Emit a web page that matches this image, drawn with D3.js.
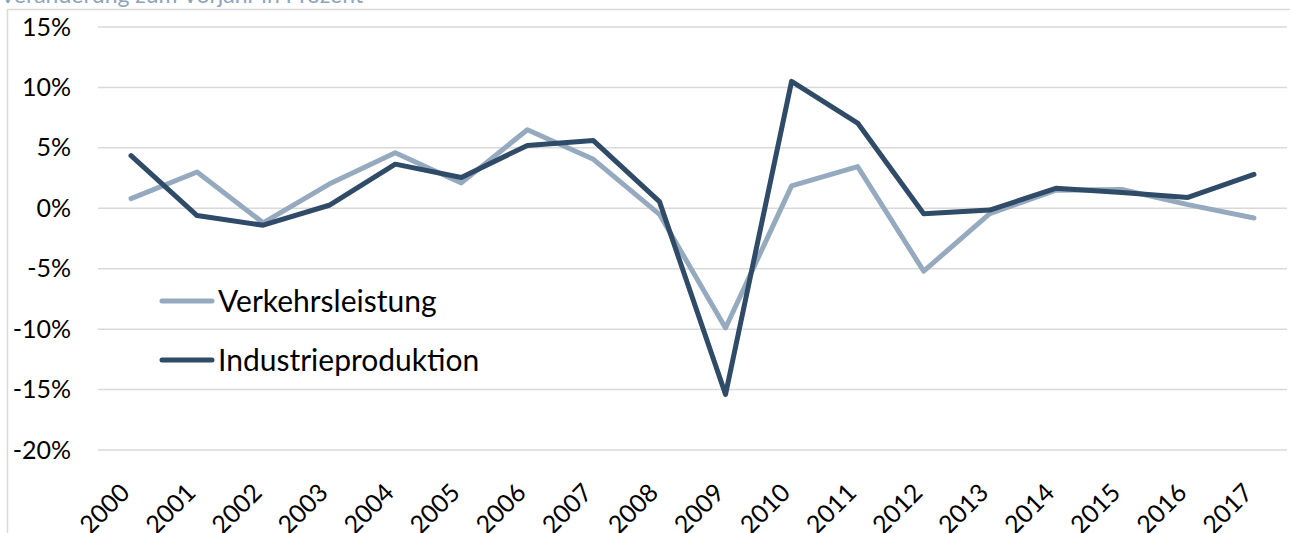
<!DOCTYPE html>
<html>
<head>
<meta charset="utf-8">
<script src="https://cdn.jsdelivr.net/npm/d3@7"></script>
<style>
  body { margin: 0; background: #fff; }
  svg { display: block; font-family: Lato, "Open Sans", sans-serif; }
</style>
</head>
<body>
<script>
"use strict";

// chart data
var years = ["2000", "2001", "2002", "2003", "2004", "2005", "2006", "2007", "2008",
             "2009", "2010", "2011", "2012", "2013", "2014", "2015", "2016", "2017"];
var verkehrsleistung = [0.8, 3.0, -1.2, 2.0, 4.6, 2.1, 6.5, 4.05, -0.5,
                        -9.9, 1.85, 3.45, -5.2, -0.45, 1.5, 1.55, 0.3, -0.8];
var industrieproduktion = [4.35, -0.6, -1.4, 0.25, 3.65, 2.55, 5.2, 5.6, 0.55,
                           -15.4, 10.5, 7.05, -0.45, -0.15, 1.65, 1.3, 0.9, 2.8];
var yTicks = [-20, -15, -10, -5, 0, 5, 10, 15];
var seriesNames = ["Verkehrsleistung", "Industrieproduktion"];
var seriesColors = ["#95aabe", "#2f4b67"];

var WIDTH = 1290, HEIGHT = 533;

var svg = d3.select("body").append("svg")
            .attr("width", WIDTH)
            .attr("height", HEIGHT);

// title, mostly cut off at the top (as in the original)
svg.append("text")
   .attr("x", 0)
   .attr("y", 3)
   .attr("fill", "#8fa4b9")
   .style("font-size", "23px")
   .text("Veränderung zum Vorjahr in Prozent");

// chart area frame
svg.append("rect")
   .attr("x", 7.5).attr("y", 9.5)
   .attr("width", 1400).attr("height", 600)
   .attr("fill", "none")
   .attr("stroke", "#d9d9d9")
   .attr("stroke-width", 1.5);

var x = d3.scaleBand()
          .domain(years)
          .range([98, 1287]);

var y = d3.scaleLinear()
          .domain([-20, 15])
          .range([450, 27]);

// gridlines
svg.append("g")
   .selectAll("line")
   .data(yTicks)
   .enter()
   .append("line")
   .attr("x1", 98).attr("x2", 1287)
   .attr("y1", function(d) { return y(d); })
   .attr("y2", function(d) { return y(d); })
   .attr("stroke", "#d9d9d9")
   .attr("stroke-width", 1.5);

// y axis labels
var yAxis = d3.axisLeft(y)
              .tickValues(yTicks)
              .tickSize(0)
              .tickPadding(0)
              .tickFormat(function(d) { return d + "%"; });

svg.append("g")
   .attr("transform", "translate(71,0)")
   .call(yAxis)
   .call(function(g) { g.select(".domain").remove(); })
   .selectAll("text")
   .attr("fill", "#000")
   .style("font-size", "25px")
   .style("font-family", "Lato, sans-serif");

// x axis labels, rotated
var xAxis = d3.axisBottom(x).tickSize(0).tickPadding(0);

var xg = svg.append("g")
            .attr("transform", "translate(0,466)")
            .call(xAxis);
xg.select(".domain").remove();
xg.selectAll("text")
  .attr("fill", "#000")
  .style("font-size", "25px")
  .style("font-family", "Lato, sans-serif")
  .attr("text-anchor", "end")
  .attr("dy", "0.75em")
  .attr("transform", "translate(-13,15) rotate(-45)");

// lines
var line = d3.line()
             .x(function(d, i) { return x(years[i]) + x.bandwidth() / 2; })
             .y(function(d) { return y(d); });

var allSeries = [verkehrsleistung, industrieproduktion];

svg.append("g")
   .selectAll("path")
   .data(allSeries)
   .enter()
   .append("path")
   .attr("d", function(d) { return line(d); })
   .attr("fill", "none")
   .attr("stroke", function(d, i) { return seriesColors[i]; })
   .attr("stroke-width", 5)
   .attr("stroke-linejoin", "round")
   .attr("stroke-linecap", "round");

// legend
var legend = svg.append("g")
                .selectAll("g")
                .data(seriesNames)
                .enter()
                .append("g")
                .attr("transform", function(d, i) { return "translate(160," + (301 + i * 59) + ")"; });

legend.append("line")
      .attr("x1", 2).attr("x2", 52)
      .attr("stroke", function(d, i) { return seriesColors[i]; })
      .attr("stroke-width", 5)
      .attr("stroke-linecap", "round");

legend.append("text")
      .attr("x", 58)
      .attr("dy", "0.35em")
      .style("font-size", "30px")
      .attr("fill", "#000")
      .text(function(d) { return d; });
</script>
</body>
</html>
